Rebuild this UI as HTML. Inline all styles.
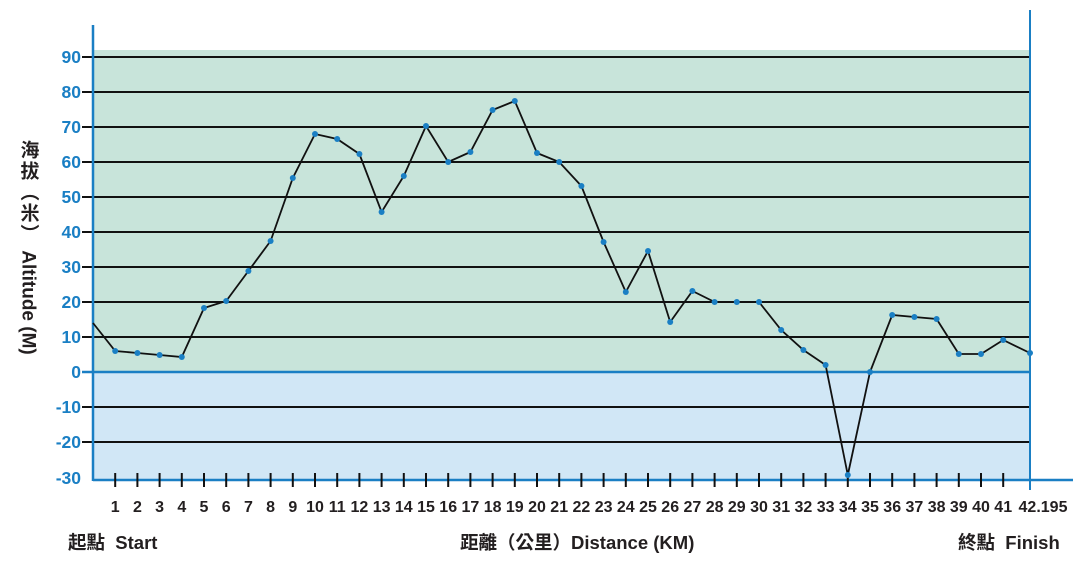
<!DOCTYPE html>
<html><head><meta charset="utf-8"><style>
html,body{margin:0;padding:0;background:#fff;width:1080px;height:565px;overflow:hidden}
svg text{font-family:"Liberation Sans","Noto Sans CJK TC",sans-serif;font-weight:bold}
</style></head><body>
<svg width="1080" height="565" viewBox="0 0 1080 565" xmlns="http://www.w3.org/2000/svg">
<rect x="93" y="50" width="937" height="322" fill="#c8e4da"/>
<rect x="93" y="372" width="937" height="108" fill="#d1e7f6"/>
<g stroke="#111" stroke-width="2">
<line x1="82" y1="57" x2="1030" y2="57"/><line x1="82" y1="92" x2="1030" y2="92"/>
<line x1="82" y1="127" x2="1030" y2="127"/><line x1="82" y1="162" x2="1030" y2="162"/>
<line x1="82" y1="197" x2="1030" y2="197"/><line x1="82" y1="232" x2="1030" y2="232"/>
<line x1="82" y1="267" x2="1030" y2="267"/><line x1="82" y1="302" x2="1030" y2="302"/>
<line x1="82" y1="337" x2="1030" y2="337"/><line x1="82" y1="407" x2="1030" y2="407"/>
<line x1="82" y1="442" x2="1030" y2="442"/>
</g>
<line x1="82" y1="372" x2="1030" y2="372" stroke="#1a7fc4" stroke-width="2.5"/>
<line x1="93" y1="25" x2="93" y2="481" stroke="#1a7fc4" stroke-width="2.5"/>
<line x1="1030" y1="10" x2="1030" y2="490" stroke="#1a7fc4" stroke-width="2"/>
<line x1="93" y1="480" x2="1073" y2="480" stroke="#1a7fc4" stroke-width="2.5"/>
<g stroke="#111" stroke-width="2">
<path d="M115.2 473V487M137.4 473V487M159.6 473V487M181.8 473V487M204 473V487M226.2 473V487M248.4 473V487M270.6 473V487M292.8 473V487M315 473V487M337.2 473V487M359.4 473V487M381.6 473V487M403.8 473V487M426 473V487M448.2 473V487M470.4 473V487M492.6 473V487M514.8 473V487M537 473V487M559.2 473V487M581.4 473V487M603.6 473V487M625.8 473V487M648 473V487M670.2 473V487M692.4 473V487M714.6 473V487M736.8 473V487M759 473V487M781.2 473V487M803.4 473V487M825.6 473V487M847.8 473V487M870 473V487M892.2 473V487M914.4 473V487M936.6 473V487M958.8 473V487M981 473V487M1003.2 473V487"/>
</g>
<g fill="#1a7fc4" font-size="17.5" text-anchor="end">
<text x="81" y="63">90</text><text x="81" y="98">80</text><text x="81" y="133">70</text>
<text x="81" y="168">60</text><text x="81" y="203">50</text><text x="81" y="238">40</text>
<text x="81" y="273">30</text><text x="81" y="308">20</text><text x="81" y="343">10</text>
<text x="81" y="378">0</text><text x="81" y="413">-10</text><text x="81" y="448">-20</text>
<text x="81" y="484">-30</text>
</g>
<g fill="#231f20" font-size="16" text-anchor="middle">
<text x="115.2" y="512">1</text><text x="137.4" y="512">2</text><text x="159.6" y="512">3</text><text x="181.8" y="512">4</text><text x="204" y="512">5</text><text x="226.2" y="512">6</text><text x="248.4" y="512">7</text><text x="270.6" y="512">8</text><text x="292.8" y="512">9</text><text x="315" y="512">10</text><text x="337.2" y="512">11</text><text x="359.4" y="512">12</text><text x="381.6" y="512">13</text><text x="403.8" y="512">14</text><text x="426" y="512">15</text><text x="448.2" y="512">16</text><text x="470.4" y="512">17</text><text x="492.6" y="512">18</text><text x="514.8" y="512">19</text><text x="537" y="512">20</text><text x="559.2" y="512">21</text><text x="581.4" y="512">22</text><text x="603.6" y="512">23</text><text x="625.8" y="512">24</text><text x="648" y="512">25</text><text x="670.2" y="512">26</text><text x="692.4" y="512">27</text><text x="714.6" y="512">28</text><text x="736.8" y="512">29</text><text x="759" y="512">30</text><text x="781.2" y="512">31</text><text x="803.4" y="512">32</text><text x="825.6" y="512">33</text><text x="847.8" y="512">34</text><text x="870" y="512">35</text><text x="892.2" y="512">36</text><text x="914.4" y="512">37</text><text x="936.6" y="512">38</text><text x="958.8" y="512">39</text><text x="981" y="512">40</text><text x="1003.2" y="512">41</text><text x="1043" y="512">42.195</text>
</g>
<g fill="#231f20" font-size="18.5">
<text x="68" y="549">起點&#160;&#160;Start</text>
<text x="460" y="549">距離（公里）Distance (KM)</text>
<text x="958" y="549">終點&#160;&#160;Finish</text>
</g>
<text x="28" y="140" fill="#231f20" font-size="19" style="writing-mode:vertical-rl;text-orientation:mixed"><tspan letter-spacing="2">海拔（米）</tspan><tspan> Altitude (M)</tspan></text>
<polyline fill="none" stroke="#111" stroke-width="1.8" points="93,323 115.2,351 137.4,353 159.6,355 181.8,357 204,308 226.2,301 248.4,271 270.6,241 292.8,178 315,134 337.2,139 359.4,154 381.6,212 403.8,176 426,126 448.2,162 470.4,152 492.6,110 514.8,101 537,153 559.2,162 581.4,186 603.6,242 625.8,292 648,251 670.2,322 692.4,291 714.6,302 736.8,302 759,302 781.2,330 803.4,350 825.6,365 847.8,475 870,372 892.2,315 914.4,317 936.6,319 958.8,354 981,354 1003.2,340 1030,353"/>
<g fill="#1a7fc4">
<circle cx="115.2" cy="351" r="3"/><circle cx="137.4" cy="353" r="3"/><circle cx="159.6" cy="355" r="3"/><circle cx="181.8" cy="357" r="3"/><circle cx="204" cy="308" r="3"/><circle cx="226.2" cy="301" r="3"/><circle cx="248.4" cy="271" r="3"/><circle cx="270.6" cy="241" r="3"/><circle cx="292.8" cy="178" r="3"/><circle cx="315" cy="134" r="3"/><circle cx="337.2" cy="139" r="3"/><circle cx="359.4" cy="154" r="3"/><circle cx="381.6" cy="212" r="3"/><circle cx="403.8" cy="176" r="3"/><circle cx="426" cy="126" r="3"/><circle cx="448.2" cy="162" r="3"/><circle cx="470.4" cy="152" r="3"/><circle cx="492.6" cy="110" r="3"/><circle cx="514.8" cy="101" r="3"/><circle cx="537" cy="153" r="3"/><circle cx="559.2" cy="162" r="3"/><circle cx="581.4" cy="186" r="3"/><circle cx="603.6" cy="242" r="3"/><circle cx="625.8" cy="292" r="3"/><circle cx="648" cy="251" r="3"/><circle cx="670.2" cy="322" r="3"/><circle cx="692.4" cy="291" r="3"/><circle cx="714.6" cy="302" r="3"/><circle cx="736.8" cy="302" r="3"/><circle cx="759" cy="302" r="3"/><circle cx="781.2" cy="330" r="3"/><circle cx="803.4" cy="350" r="3"/><circle cx="825.6" cy="365" r="3"/><circle cx="847.8" cy="475" r="3"/><circle cx="870" cy="372" r="3"/><circle cx="892.2" cy="315" r="3"/><circle cx="914.4" cy="317" r="3"/><circle cx="936.6" cy="319" r="3"/><circle cx="958.8" cy="354" r="3"/><circle cx="981" cy="354" r="3"/><circle cx="1003.2" cy="340" r="3"/><circle cx="1030" cy="353" r="3"/>
</g>
</svg>
</body></html>
